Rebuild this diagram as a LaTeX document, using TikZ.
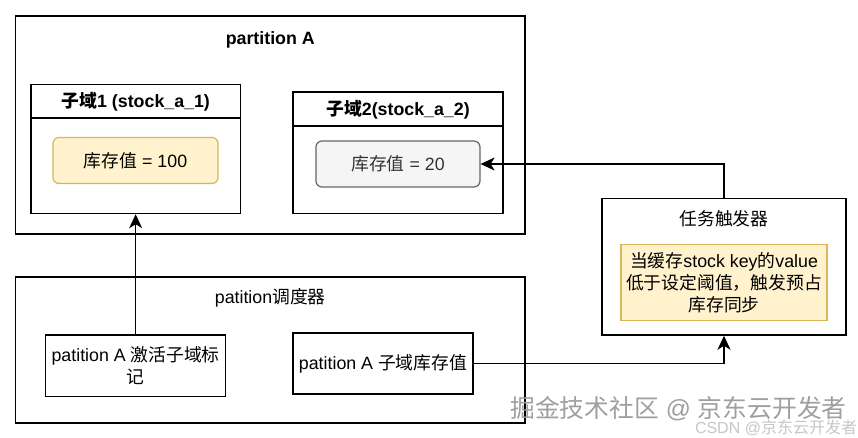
\documentclass[tikz,border=0pt]{standalone}
\usepackage{fontspec}
\setmainfont{Liberation Sans}
\newfontfamily\cjk{Noto Sans CJK SC}
\newcommand{\zh}[1]{{\cjk #1}}
\usetikzlibrary{arrows.meta}
\definecolor{noteyellow}{HTML}{FFF2CC}
\definecolor{noteborder}{HTML}{D6B656}
\definecolor{greyfill}{HTML}{F5F5F5}
\definecolor{greyborder}{HTML}{666666}
\definecolor{greytext}{HTML}{333333}

\begin{document}
\begin{tikzpicture}[x=1pt, y=-1pt,
        every node/.style={font=\fontsize{17.8}{22}\selectfont, inner sep=0pt},
        arr/.style={line width=1.5pt, -{Stealth[length=14pt, width=13pt, inset=4pt]}}]
        \useasboundingbox (0,0) rectangle (858,438);

        % partition A
        \node[draw, line width=1.5pt, minimum width=509.5pt, minimum height=218pt] (partA) at (270.25,125) {};
        \node (partAtitle) at (270.25,40) {\bfseries partition A};

        \node[draw, line width=1.5pt, minimum width=209.5pt, minimum height=129pt] (sub1) at (135.75,149) {};
        \node (sub1title) at (135.75,101.5) {\bfseries \zh{子域}1 (stock\_a\_1)};
        \draw[line width=1.5pt] ([yshift=-34.5pt]sub1.north west) -- ([yshift=-34.5pt]sub1.north east);
        \node[draw=noteborder, fill=noteyellow, line width=1.2pt, rounded corners=6pt, minimum width=165pt, minimum height=46pt] (val1) at (135.5,160.5) {\zh{库存值} = 100};

        \node[draw, line width=1.5pt, minimum width=210pt, minimum height=121.5pt] (sub2) at (398,152.75) {};
        \node (sub2title) at (398,110) {\bfseries \zh{子域}2(stock\_a\_2)};
        \draw[line width=1.5pt] ([yshift=-35pt]sub2.north west) -- ([yshift=-35pt]sub2.north east);
        \node[draw=greyborder, fill=greyfill, text=greytext, line width=1.2pt, rounded corners=6pt, minimum width=164pt, minimum height=46pt] (val2) at (398,164) {\zh{库存值} = 20};

        % scheduler
        \node[draw, line width=1.5pt, minimum width=509.5pt, minimum height=146pt] (sched) at (270.25,350) {};
        \node (schedtitle) at (270.25,298) {patition\zh{调度器}};
        \node[draw, line width=1.5pt, minimum width=180pt, minimum height=61.5pt, align=center] (mark) at (135.65,365.75) {patition A \zh{激活子域标}\\\zh{记}};
        \node[draw, line width=1.5pt, minimum width=180pt, minimum height=61pt] (stockv) at (383,363.5) {patition A \zh{子域库存值}};

        % trigger
        \node[draw, line width=1.5pt, minimum width=244pt, minimum height=136.5pt] (trig) at (724,266.75) {};
        \node (trigtitle) at (724,219) {\zh{任务触发器}};
        \node[draw=noteborder, fill=noteyellow, line width=1.2pt, minimum width=206pt, minimum height=76pt, align=center] (rule) at (724,282.5) {\zh{当缓存}stock key\zh{的}value\\\zh{低于设定阈值，触发预占}\\\zh{库存同步}};

        \draw[arr] (mark.north) -- (mark.north |- sub1.south);
        \draw[arr] (stockv.east) -| (trig.south);
        \draw[arr] (trig.north) |- (val2.east);

        % watermark
        \node[text=gray!75, font=\fontsize{24.8}{26}\selectfont] (mark1) at (678.5,409) {\zh{掘金技术社区} @ \zh{京东云开发者}};
        \node[text=gray!45, font=\fontsize{16}{18}\selectfont] (mark2) at (776,428) {CSDN @\zh{京东云开发者}};
    \end{tikzpicture}
\end{document}
